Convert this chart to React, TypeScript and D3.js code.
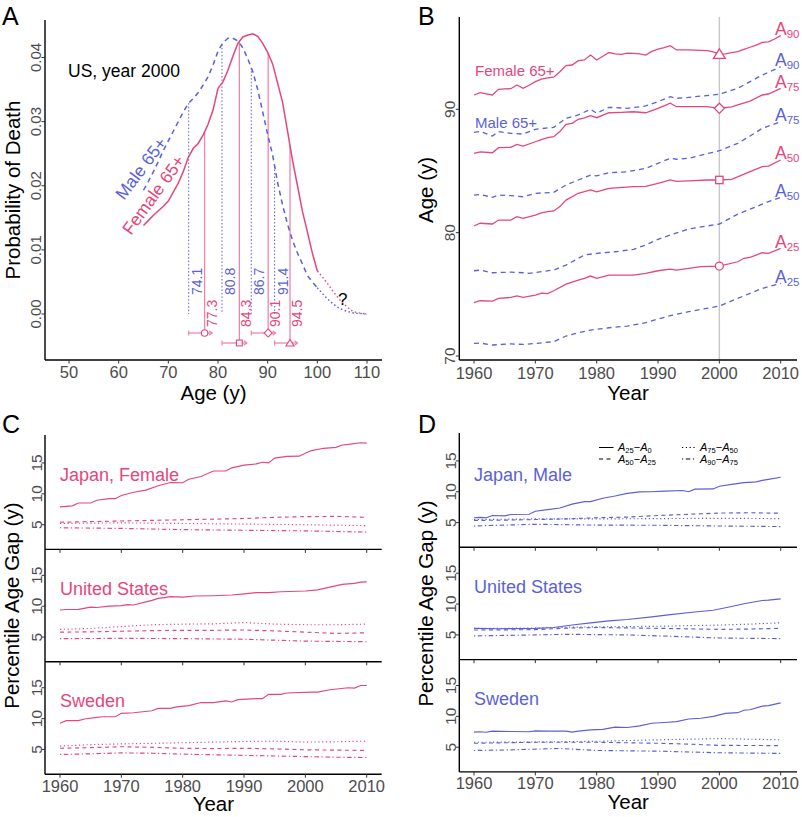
import React from 'react';
import * as d3 from 'd3';

type Pt = [number, number];

const PINK = '#E5467B';
const PINK_LIGHT = '#EE86AA';
const BLUE = '#5B5FDB';
const GREY = '#4D4D4D';
const FONT = '"Liberation Sans", Arial, Helvetica, sans-serif';

// ---------------- Panel A: probability of death by age (US, 2000) ----------------
const femaleCurve: Pt[] = [
  [65, 0.0138], [66, 0.0146], [67, 0.0154], [68, 0.0161], [69, 0.0168], [70, 0.0176], [71, 0.019],
  [72, 0.0204], [73, 0.0222], [74, 0.0244], [75, 0.0258], [76, 0.0266], [77, 0.0279], [78, 0.0296],
  [79, 0.0318], [80, 0.0352], [81, 0.0362], [82, 0.038], [83, 0.0402], [84, 0.0422], [85, 0.0432],
  [86, 0.0435], [87, 0.0437], [88, 0.0433], [89, 0.0422], [90, 0.0408], [91, 0.039], [92, 0.036],
  [93, 0.033], [94, 0.0285], [95, 0.024], [96, 0.02], [97, 0.016], [98, 0.0128], [99, 0.0095], [100, 0.0067],
];
const femaleTail: Pt[] = [
  [100, 0.0067], [101, 0.0058], [102, 0.0048], [103, 0.0037], [104, 0.0027], [105, 0.0018],
  [106, 0.0011], [107, 0.0005], [108, 0.0002], [109, 0.0001], [110, 0],
];
const maleCurve: Pt[] = [
  [65, 0.0193], [66, 0.0207], [67, 0.0222], [68, 0.0238], [69, 0.0255], [70, 0.027], [71, 0.0285],
  [72, 0.03], [73, 0.0315], [74, 0.0328], [75, 0.0336], [76, 0.0345], [77, 0.0357], [78, 0.037],
  [79, 0.0388], [80, 0.041], [81, 0.0423], [82, 0.043], [83, 0.043], [84, 0.0426], [85, 0.0415],
  [86, 0.0398], [87, 0.0378], [88, 0.035], [89, 0.0315], [90, 0.028], [91, 0.0248], [92, 0.0205],
  [93, 0.017], [94, 0.014], [95, 0.0115], [96, 0.0095], [97, 0.0078], [98, 0.006], [99, 0.005], [100, 0.0041],
];
const maleTail: Pt[] = [
  [100, 0.0041], [101, 0.0032], [102, 0.0024], [103, 0.0017], [104, 0.0011], [105, 0.0007],
  [106, 0.0004], [107, 0.0002], [108, 0.0001], [110, 0],
];
const femalePct = [77.3, 84.3, 90.1, 94.5];
const malePct = [74.1, 80.8, 86.7, 91.4];
const pctShapes = ['circle', 'square', 'diamond', 'triangle'];
const aXTicks = [50, 60, 70, 80, 90, 100, 110];
const aYTicks = [0, 0.01, 0.02, 0.03, 0.04];

// ---------------- Panel B: percentile ages by year (US) ----------------
const fA90: Pt[] = [
  [1960, 91.16], [1961, 91.35], [1962, 91.25], [1963, 91.16], [1964, 91.62], [1965, 91.65], [1966, 91.67],
  [1967, 91.97], [1968, 91.7], [1969, 91.95], [1970, 92.24], [1971, 92.45], [1972, 92.55], [1973, 92.6],
  [1974, 93.05], [1975, 93.54], [1976, 93.59], [1977, 93.94], [1978, 94.0], [1979, 94.4], [1980, 94.0],
  [1981, 94.3], [1982, 94.6], [1983, 94.5], [1984, 94.46], [1985, 94.55], [1986, 94.54], [1987, 94.5],
  [1988, 94.4], [1989, 94.7], [1990, 94.87], [1991, 95.0], [1992, 95.16], [1993, 94.81], [1995, 94.81],
  [1998, 94.75], [1999, 94.65], [2000, 94.48], [2001, 94.5], [2002, 94.6], [2003, 94.68], [2004, 94.85],
  [2005, 95.03], [2006, 95.2], [2007, 95.43], [2008, 95.46], [2009, 95.7], [2010, 95.97],
];
const mA90: Pt[] = [
  [1960, 88.13], [1961, 88.2], [1963, 87.83], [1964, 88.19], [1966, 88.05], [1968, 87.99], [1970, 88.38],
  [1973, 88.54], [1975, 89.27], [1977, 89.54], [1979, 90.0], [1980, 89.68], [1982, 90.16], [1985, 90.08],
  [1988, 90.27], [1990, 90.62], [1992, 91.02], [1993, 90.89], [1995, 90.97], [2000, 91.22], [2003, 91.7],
  [2005, 92.24], [2007, 92.78], [2010, 93.45],
];
const fA75: Pt[] = [
  [1960, 86.43], [1961, 86.55], [1963, 86.48], [1964, 86.89], [1966, 86.92], [1967, 87.16], [1968, 87.02],
  [1970, 87.37], [1971, 87.55], [1972, 87.7], [1973, 87.78], [1974, 88.19], [1975, 88.78], [1976, 88.86],
  [1977, 89.19], [1978, 89.3], [1979, 89.48], [1980, 89.32], [1982, 89.72], [1984, 89.75], [1986, 89.8],
  [1988, 89.72], [1990, 90.08], [1992, 90.49], [1993, 90.21], [1995, 90.21], [1998, 90.21], [2000, 90.08],
  [2002, 90.2], [2003, 90.35], [2005, 90.67], [2007, 91.16], [2008, 91.24], [2010, 91.7],
];
const mA75: Pt[] = [
  [1960, 83.05], [1961, 83.1], [1963, 82.86], [1964, 83.05], [1966, 83.0], [1968, 82.91], [1970, 83.19],
  [1973, 83.27], [1975, 83.86], [1977, 84.27], [1979, 84.67], [1980, 84.6], [1982, 84.86], [1985, 84.94],
  [1988, 85.21], [1990, 85.62], [1992, 86.03], [1993, 85.95], [1995, 86.03], [2000, 86.64], [2003, 87.24],
  [2005, 87.83], [2007, 88.46], [2010, 88.99],
];
const fA50: Pt[] = [
  [1960, 80.54], [1961, 80.76], [1963, 80.7], [1964, 81.02], [1966, 81.02], [1967, 81.29], [1968, 81.16],
  [1970, 81.43], [1971, 81.6], [1972, 81.7], [1973, 81.76], [1974, 82.11], [1975, 82.64], [1977, 83.19],
  [1979, 83.46], [1980, 83.3], [1982, 83.59], [1986, 83.73], [1988, 83.75], [1990, 84.0], [1992, 84.27],
  [1993, 84.15], [1995, 84.2], [1998, 84.27], [2000, 84.27], [2002, 84.32], [2005, 84.94], [2007, 85.35],
  [2008, 85.4], [2010, 85.89],
];
const mA50: Pt[] = [
  [1960, 76.91], [1961, 76.96], [1963, 76.75], [1966, 76.8], [1968, 76.75], [1969, 76.7], [1973, 76.97],
  [1975, 77.37], [1978, 78.19], [1980, 78.32], [1983, 78.45], [1986, 78.65], [1988, 79.0], [1990, 79.46],
  [1992, 79.81], [1995, 80.3], [2000, 80.7], [2003, 81.5], [2005, 81.9], [2008, 82.51], [2010, 82.86],
];
const fA25: Pt[] = [
  [1960, 74.32], [1961, 74.48], [1963, 74.45], [1964, 74.67], [1966, 74.75], [1967, 74.88], [1968, 74.75],
  [1970, 74.94], [1971, 75.1], [1972, 75.05], [1973, 75.29], [1975, 75.83], [1977, 76.16], [1978, 76.29],
  [1979, 76.48], [1980, 76.29], [1982, 76.56], [1986, 76.56], [1988, 76.7], [1990, 76.91], [1992, 77.05],
  [1993, 76.97], [1995, 77.1], [1997, 77.24], [2000, 77.29], [2003, 77.64], [2004, 77.92], [2005, 78.0],
  [2007, 78.37], [2008, 78.32], [2010, 78.73],
];
const mA25: Pt[] = [
  [1960, 71.02], [1961, 71.05], [1963, 70.89], [1966, 70.98], [1968, 70.94], [1970, 71.02], [1973, 71.16],
  [1975, 71.62], [1977, 71.89], [1979, 72.1], [1982, 72.29], [1985, 72.43], [1988, 72.7], [1990, 73.0],
  [1992, 73.27], [1995, 73.59], [2000, 74.05], [2003, 74.67], [2005, 75.08], [2007, 75.48], [2010, 75.89],
];
const bLabels = ['90', '75', '50', '25'];
const bShapes = ['triangle', 'diamond', 'square', 'circle'];
const yearTicks = [1960, 1970, 1980, 1990, 2000, 2010];
const bYTicks = [70, 80, 90];
const markYear = 2000;

// ---------------- Panels C/D: percentile age gaps ----------------
// order per facet: [A25-A0 (solid), A50-A25 (dashed), A75-A50 (dotted), A90-A75 (dotdash)]
const jpFemSolid: Pt[] = [
  [1960, 7.89], [1962, 8.05], [1963, 8.52], [1965, 8.52], [1966, 8.95], [1968, 9.21], [1969, 9.21],
  [1970, 9.74], [1972, 10.26], [1974, 10.6], [1976, 11.3], [1978, 11.84], [1980, 11.8], [1981, 12.37],
  [1983, 12.8], [1985, 13.69], [1987, 13.69], [1988, 14.21], [1990, 14.64], [1992, 14.84], [1993, 15.11],
  [1994, 15.0], [1995, 15.79], [1997, 16.06], [1999, 16.1], [2000, 16.58], [2001, 17.0], [2003, 17.37],
  [2005, 17.53], [2006, 17.9], [2007, 18.0], [2009, 18.27], [2010, 18.2],
];
const jpFemDashed: Pt[] = [[1960, 5.4], [1965, 5.5], [1970, 5.6], [1975, 5.7], [1980, 5.8], [1985, 5.9], [1990, 6.0], [1995, 6.2], [2000, 6.3], [2005, 6.35], [2010, 6.2]];
const jpFemDotted: Pt[] = [[1960, 5.2], [1970, 5.3], [1980, 5.2], [1990, 5.1], [2000, 5.0], [2010, 4.85]];
const jpFemDotdash: Pt[] = [[1960, 4.5], [1970, 4.4], [1980, 4.2], [1990, 4.1], [2000, 4.0], [2010, 3.8]];

const usFemSolid: Pt[] = [
  [1960, 9.38], [1961, 9.47], [1963, 9.5], [1965, 9.86], [1966, 9.8], [1968, 10.02], [1970, 10.1],
  [1971, 10.25], [1972, 10.2], [1974, 10.7], [1975, 10.95], [1976, 11.27], [1977, 11.4], [1978, 11.55],
  [1980, 11.48], [1982, 11.65], [1985, 11.7], [1988, 11.81], [1990, 12.0], [1992, 12.2], [1994, 12.2],
  [1996, 12.35], [2000, 12.46], [2002, 12.65], [2004, 13.1], [2006, 13.54], [2008, 13.7], [2009, 13.9], [2010, 13.95],
];
const usFemDashed: Pt[] = [[1960, 5.8], [1965, 5.85], [1970, 5.95], [1975, 6.05], [1980, 6.1], [1985, 6.1], [1990, 6.15], [1995, 6.0], [2000, 5.8], [2005, 5.6], [2010, 5.7]];
const usFemDotted: Pt[] = [[1960, 6.25], [1965, 6.4], [1970, 6.7], [1975, 7.0], [1980, 7.1], [1985, 7.15], [1990, 7.35], [1995, 7.1], [2000, 7.0], [2005, 7.0], [2010, 7.1]];
const usFemDotdash: Pt[] = [[1960, 4.75], [1970, 4.8], [1980, 4.75], [1990, 4.65], [1995, 4.5], [2000, 4.35], [2005, 4.3], [2010, 4.25]];

const seFemSolid: Pt[] = [
  [1960, 9.26], [1961, 9.67], [1963, 9.67], [1964, 9.94], [1966, 10.2], [1967, 10.31], [1969, 10.31],
  [1970, 10.85], [1972, 10.95], [1975, 11.27], [1976, 11.65], [1978, 11.65], [1979, 11.91], [1981, 12.1],
  [1983, 12.6], [1985, 12.6], [1987, 12.86], [1988, 12.7], [1989, 13.08], [1992, 13.24], [1993, 13.24],
  [1994, 13.93], [1996, 13.93], [1997, 14.14], [2001, 14.3], [2002, 14.3], [2004, 14.68], [2007, 15.0],
  [2008, 14.95], [2009, 15.37], [2010, 15.37],
];
const seFemDashed: Pt[] = [[1960, 5.2], [1965, 5.3], [1970, 5.45], [1975, 5.35], [1980, 5.2], [1985, 5.15], [1990, 5.2], [1995, 5.1], [2000, 4.95], [2005, 4.9], [2010, 4.85]];
const seFemDotted: Pt[] = [[1960, 5.55], [1965, 5.8], [1970, 5.9], [1975, 6.0], [1980, 6.1], [1985, 6.2], [1990, 6.3], [1995, 6.35], [2000, 6.2], [2005, 6.25], [2010, 6.35]];
const seFemDotdash: Pt[] = [[1960, 4.2], [1965, 4.3], [1970, 4.45], [1975, 4.4], [1980, 4.25], [1985, 4.15], [1990, 4.05], [1995, 3.95], [2000, 3.85], [2005, 3.75], [2010, 3.7]];

const jpMalSolid: Pt[] = [
  [1960, 5.79], [1961, 5.85], [1962, 5.79], [1963, 6.15], [1965, 6.1], [1966, 6.31], [1969, 6.35],
  [1970, 6.84], [1972, 7.1], [1974, 7.37], [1976, 8.0], [1978, 8.41], [1979, 8.4], [1981, 8.95],
  [1983, 9.31], [1985, 9.74], [1987, 9.99], [1989, 10.0], [1991, 10.1], [1994, 10.2], [1995, 10.0],
  [1996, 10.42], [1999, 10.46], [2000, 10.89], [2002, 11.2], [2004, 11.47], [2006, 11.6], [2007, 11.84],
  [2008, 12.0], [2010, 12.36],
];
const jpMalDashed: Pt[] = [[1960, 5.36], [1965, 5.4], [1970, 5.5], [1975, 5.6], [1980, 5.79], [1985, 5.9], [1990, 6.15], [1995, 6.35], [2000, 6.55], [2005, 6.6], [2010, 6.52]];
const jpMalDotted: Pt[] = [[1960, 5.5], [1970, 5.6], [1980, 5.6], [1990, 5.65], [2000, 5.7], [2010, 5.65]];
const jpMalDotdash: Pt[] = [[1960, 4.46], [1965, 4.6], [1970, 4.73], [1980, 4.6], [1990, 4.57], [2000, 4.45], [2010, 4.36]];

const usMalSolid: Pt[] = [
  [1960, 6.07], [1964, 6.0], [1970, 6.07], [1973, 6.2], [1976, 6.6], [1979, 6.96], [1982, 7.28],
  [1985, 7.5], [1989, 7.92], [1992, 8.3], [1996, 8.72], [1999, 8.99], [2002, 9.6], [2004, 10.05],
  [2007, 10.58], [2008, 10.65], [2010, 10.85],
];
const usMalDashed: Pt[] = [[1960, 5.8], [1970, 5.85], [1975, 6.1], [1980, 6.2], [1990, 6.07], [2000, 5.9], [2005, 5.95], [2010, 6.07]];
const usMalDotted: Pt[] = [[1960, 6.07], [1970, 6.1], [1975, 6.25], [1980, 6.3], [1990, 6.4], [2000, 6.6], [2005, 6.75], [2010, 6.96]];
const usMalDotdash: Pt[] = [[1960, 4.84], [1970, 5.0], [1975, 5.1], [1985, 5.0], [1990, 4.85], [2000, 4.5], [2005, 4.45], [2010, 4.4]];

const seMalSolid: Pt[] = [
  [1960, 7.45], [1961, 7.5], [1962, 7.42], [1963, 7.6], [1966, 7.55], [1969, 7.5], [1970, 7.65],
  [1972, 7.6], [1975, 7.6], [1976, 7.45], [1977, 7.6], [1979, 7.82], [1981, 7.9], [1983, 8.25],
  [1985, 8.2], [1987, 8.45], [1989, 8.89], [1991, 9.0], [1993, 9.15], [1995, 9.58], [1997, 9.7],
  [1999, 10.0], [2001, 10.48], [2003, 10.6], [2004, 11.0], [2005, 11.07], [2007, 11.65], [2008, 11.75], [2010, 12.18],
];
const seMalDashed: Pt[] = [[1960, 5.64], [1970, 5.8], [1980, 5.8], [1990, 5.64], [1995, 5.5], [2000, 5.3], [2010, 5.26]];
const seMalDotted: Pt[] = [[1960, 5.8], [1970, 5.85], [1980, 5.96], [1990, 6.2], [2000, 6.4], [2005, 6.3], [2010, 6.2]];
const seMalDotdash: Pt[] = [[1960, 4.47], [1965, 4.55], [1974, 4.8], [1980, 4.47], [1990, 4.36], [2000, 4.1], [2010, 4.0]];

const femaleFacetNames = ['Japan, Female', 'United States', 'Sweden'];
const maleFacetNames = ['Japan, Male', 'United States', 'Sweden'];
const gapTicks = [5, 10, 15];
const gapDomain = [1, 19.2];
const legendItems = [
  { a: '25', b: '0' },
  { a: '50', b: '25' },
  { a: '75', b: '50' },
  { a: '90', b: '75' },
];

const DASHES = ['none', '4,3.5', '1.2,2.6', '1.2,2.6,4.5,2.6'];

function interp(data: Pt[], x: number): number {
  for (let i = 0; i < data.length - 1; i++) {
    const [x0, y0] = data[i];
    const [x1, y1] = data[i + 1];
    if (x >= x0 && x <= x1) return y0 + ((x - x0) / (x1 - x0)) * (y1 - y0);
  }
  return data[data.length - 1][1];
}

function Marker({ shape, x, y, s, color, sw = 1.3 }: { shape: string; x: number; y: number; s: number; color: string; sw?: number }) {
  const common = { fill: 'white', stroke: color, strokeWidth: sw };
  if (shape === 'circle') return <circle cx={x} cy={y} r={s / 2} {...common} />;
  if (shape === 'square') return <rect x={x - s * 0.45} y={y - s * 0.45} width={s * 0.9} height={s * 0.9} {...common} />;
  if (shape === 'diamond') {
    const h = s * 0.62;
    return <path d={`M${x},${y - h}L${x + h},${y}L${x},${y + h}L${x - h},${y}Z`} {...common} />;
  }
  const w = s * 0.62;
  return <path d={`M${x},${y - s * 0.55}L${x + w},${y + s * 0.45}L${x - w},${y + s * 0.45}Z`} {...common} />;
}

function ALabel({ x, y, sub, color, fs, subFs }: { x: number; y: number; sub: string; color: string; fs: number; subFs: number }) {
  return (
    <text x={x} y={y} fill={color} fontSize={fs}>
      A<tspan fontSize={subFs} dy={3}>{sub}</tspan>
    </text>
  );
}

export default function App() {
  // ----- Panel A scales -----
  const ax = d3.scaleLinear().domain([50, 110]).range([69, 367]);
  const ay = d3.scaleLinear().domain([0, 0.04]).range([314, 57.5]);
  const aLine = d3.line<Pt>().x((d) => ax(d[0])).y((d) => ay(d[1]));

  // ----- Panel B scales -----
  const bx = d3.scaleLinear().domain([1960, 2010]).range([474, 780.7]);
  const by = d3.scaleLinear().domain([70, 90]).range([356, 109.3]);
  const bLine = d3.line<Pt>().x((d) => bx(d[0])).y((d) => by(d[1]));
  const femB = [fA90, fA75, fA50, fA25];
  const malB = [mA90, mA75, mA50, mA25];

  // ----- Panels C / D -----
  const cx = d3.scaleLinear().domain([1960, 2010]).range([60, 366.7]);
  const dx = d3.scaleLinear().domain([1960, 2010]).range([474, 780.7]);
  const femFacets = [
    [jpFemSolid, jpFemDashed, jpFemDotted, jpFemDotdash],
    [usFemSolid, usFemDashed, usFemDotted, usFemDotdash],
    [seFemSolid, seFemDashed, seFemDotted, seFemDotdash],
  ];
  const malFacets = [
    [jpMalSolid, jpMalDashed, jpMalDotted, jpMalDotdash],
    [usMalSolid, usMalDashed, usMalDotted, usMalDotdash],
    [seMalSolid, seMalDashed, seMalDotted, seMalDotdash],
  ];

  const renderGapPanel = (
    key: string,
    xs: d3.ScaleLinear<number, number>,
    axisLeft: number,
    axisRight: number,
    top0: number,
    h: number,
    facets: Pt[][][],
    names: string[],
    color: string,
    tickLabelX: number,
    labelBaselines: number[],
  ) => {
    const bottom = top0 + 3 * h;
    return (
      <g key={key}>
        <line x1={axisLeft} x2={axisLeft} y1={top0 - 2} y2={bottom} stroke="#000" strokeWidth={1.4} />
        {facets.map((series, fi) => {
          const t = top0 + fi * h;
          const ys = d3.scaleLinear().domain(gapDomain).range([t + h, t]);
          const line = d3.line<Pt>().x((d) => xs(d[0])).y((d) => ys(d[1]));
          return (
            <g key={fi}>
              <line x1={axisLeft} x2={axisRight} y1={t + h} y2={t + h} stroke="#000" strokeWidth={1.4} />
              {yearTicks.map((yr) => (
                <line key={yr} x1={xs(yr)} x2={xs(yr)} y1={t + h} y2={t + h + 3.5} stroke="#333" strokeWidth={1} />
              ))}
              {gapTicks.map((v) => (
                <g key={v}>
                  <line x1={axisLeft - 3.5} x2={axisLeft} y1={ys(v)} y2={ys(v)} stroke="#333" strokeWidth={1} />
                  <text transform={`translate(${tickLabelX},${ys(v)}) rotate(-90)`} textAnchor="middle" fontSize={15.5} fill={GREY}>
                    {v}
                  </text>
                </g>
              ))}
              {series.map((s, si) => (
                <path key={si} d={line(s) || ''} fill="none" stroke={color} strokeWidth={1.15} strokeDasharray={DASHES[si]} />
              ))}
              <text x={xs(1960)} y={labelBaselines[fi]} fill={color} fontSize={18}>
                {names[fi]}
              </text>
            </g>
          );
        })}
        {yearTicks.map((yr) => (
          <text key={yr} x={xs(yr)} y={bottom + 17.5} textAnchor="middle" fontSize={16.5} fill={GREY}>
            {yr}
          </text>
        ))}
        <text x={(axisLeft + axisRight) / 2} y={bottom + 37} textAnchor="middle" fontSize={20.5} fill="#000">
          Year
        </text>
        <text transform={`translate(${axisLeft - 26},${(top0 + bottom) / 2}) rotate(-90)`} textAnchor="middle" fontSize={20.5} fill="#000">
          Percentile Age Gap (y)
        </text>
      </g>
    );
  };

  const y0 = ay(0);
  const markerOffsets = [19, 29, 19, 29];

  return (
    <div style={{ position: 'absolute', left: 0, top: 0, width: 802, height: 817, background: '#fff' }}>
      <svg width={802} height={817} style={{ display: 'block', fontFamily: FONT }}>
        <rect width={802} height={817} fill="#fff" />

        {/* ================= Panel A ================= */}
        <text x={2} y={25} fontSize={25} fill="#000">A</text>
        <line x1={45} x2={45} y1={20} y2={360} stroke="#000" strokeWidth={1.4} />
        <line x1={45} x2={382} y1={360} y2={360} stroke="#000" strokeWidth={1.4} />
        {aXTicks.map((t) => (
          <g key={t}>
            <line x1={ax(t)} x2={ax(t)} y1={360} y2={363.5} stroke="#333" />
            <text x={ax(t)} y={378} textAnchor="middle" fontSize={16.5} fill={GREY}>{t}</text>
          </g>
        ))}
        {aYTicks.map((t) => (
          <g key={t}>
            <line x1={41.5} x2={45} y1={ay(t)} y2={ay(t)} stroke="#333" />
            <text transform={`translate(${41},${ay(t)}) rotate(-90)`} textAnchor="middle" fontSize={15} fill={GREY}>
              {d3.format('.2f')(t)}
            </text>
          </g>
        ))}
        <text x={213.5} y={400} textAnchor="middle" fontSize={20.5}>Age (y)</text>
        <text transform="translate(20,190) rotate(-90)" textAnchor="middle" fontSize={20.5}>Probability of Death</text>
        <text x={68} y={77} fontSize={17.5} fill="#000">US, year 2000</text>

        {/* male percentile lines */}
        {malePct.map((p) => (
          <g key={p}>
            <line x1={ax(p)} x2={ax(p)} y1={ay(interp(maleCurve, p))} y2={y0} stroke={BLUE} strokeWidth={1} strokeDasharray="1.5,2" />
            <text transform={`translate(${ax(p) + 13},${295}) rotate(-90)`} fontSize={14} fill={BLUE}>{p.toFixed(1)}</text>
          </g>
        ))}
        {/* female percentile lines + markers */}
        {femalePct.map((p, i) => {
          const my = y0 + markerOffsets[i];
          const xm = ax(malePct[i]);
          const xf = ax(p);
          const xe = xf + 7.5;
          return (
            <g key={p}>
              <line x1={xf} x2={xf} y1={ay(interp(femaleCurve, p))} y2={my} stroke={PINK_LIGHT} strokeWidth={1.3} />
              <line x1={xm} x2={xe} y1={my} y2={my} stroke={PINK_LIGHT} strokeWidth={1.3} />
              <line x1={xm} x2={xm} y1={my - 2.5} y2={my + 2.5} stroke={PINK_LIGHT} strokeWidth={1.2} />
              <path d={`M${xe - 3},${my - 2.2}L${xe},${my}L${xe - 3},${my + 2.2}`} fill="none" stroke={PINK_LIGHT} strokeWidth={1.2} />
              <Marker shape={pctShapes[i]} x={xf} y={my} s={6.5} color={PINK} sw={1.1} />
              <text transform={`translate(${xf + 12},${327}) rotate(-90)`} fontSize={14} fill={PINK}>{p.toFixed(1)}</text>
            </g>
          );
        })}
        {/* curves */}
        <path d={aLine(maleCurve) || ''} fill="none" stroke={BLUE} strokeWidth={1.5} strokeDasharray="5,4" />
        <path d={aLine(maleTail) || ''} fill="none" stroke={BLUE} strokeWidth={1.4} strokeDasharray="1.5,2.5" />
        <path d={aLine(femaleCurve) || ''} fill="none" stroke={PINK} strokeWidth={1.5} />
        <path d={aLine(femaleTail) || ''} fill="none" stroke={PINK} strokeWidth={1.4} strokeDasharray="1.5,2.5" />
        <text x={338} y={305} fontSize={17} fill="#000">?</text>
        <text transform="translate(124,201) rotate(-53)" fontSize={17.5} fill={BLUE}>Male 65+</text>
        <text transform="translate(131,236) rotate(-54)" fontSize={17.5} fill={PINK}>Female 65+</text>

        {/* ================= Panel B ================= */}
        <text x={418} y={25} fontSize={25} fill="#000">B</text>
        <line x1={bx(markYear)} x2={bx(markYear)} y1={17} y2={360} stroke="#C8C8C8" strokeWidth={1.4} />
        <line x1={459.3} x2={459.3} y1={17} y2={360} stroke="#000" strokeWidth={1.4} />
        <line x1={459.3} x2={797} y1={360} y2={360} stroke="#000" strokeWidth={1.4} />
        {yearTicks.map((t) => (
          <g key={t}>
            <line x1={bx(t)} x2={bx(t)} y1={360} y2={363.5} stroke="#333" />
            <text x={bx(t)} y={379} textAnchor="middle" fontSize={16.5} fill={GREY}>{t}</text>
          </g>
        ))}
        {bYTicks.map((t) => (
          <g key={t}>
            <line x1={455.8} x2={459.3} y1={by(t)} y2={by(t)} stroke="#333" />
            <text transform={`translate(${455},${by(t)}) rotate(-90)`} textAnchor="middle" fontSize={15.5} fill={GREY}>{t}</text>
          </g>
        ))}
        <text x={628} y={400} textAnchor="middle" fontSize={20.5}>Year</text>
        <text transform="translate(433,190) rotate(-90)" textAnchor="middle" fontSize={20.5}>Age (y)</text>
        {malB.map((s, i) => (
          <path key={'m' + i} d={bLine(s) || ''} fill="none" stroke={BLUE} strokeWidth={1.3} strokeDasharray="5,4" />
        ))}
        {femB.map((s, i) => (
          <path key={'f' + i} d={bLine(s) || ''} fill="none" stroke={PINK} strokeWidth={1.3} />
        ))}
        {femB.map((s, i) => (
          <Marker key={'k' + i} shape={bShapes[i]} x={bx(markYear)} y={by(interp(s, markYear))} s={i === 0 ? 9.5 : i === 3 ? 8 : 8.2} color={PINK} />
        ))}
        {femB.map((s, i) => (
          <ALabel key={'lf' + i} x={775} y={by(s[s.length - 1][1]) - 0.5} sub={bLabels[i]} color={PINK} fs={17.5} subFs={11.5} />
        ))}
        {malB.map((s, i) => (
          <ALabel key={'lm' + i} x={775} y={by(s[s.length - 1][1]) - 0.5} sub={bLabels[i]} color={BLUE} fs={17.5} subFs={11.5} />
        ))}
        <text x={475} y={76} fontSize={15} fill={PINK}>Female 65+</text>
        <text x={475} y={127.5} fontSize={15} fill={BLUE}>Male 65+</text>

        {/* ================= Panel C ================= */}
        <text x={2} y={433} fontSize={25} fill="#000">C</text>
        {renderGapPanel('C', cx, 45, 381.7, 437, 112.4, femFacets, femaleFacetNames, PINK, 41.5, [481, 594.5, 707])}

        {/* ================= Panel D ================= */}
        <text x={418} y={433} fontSize={25} fill="#000">D</text>
        {renderGapPanel('D', dx, 459.3, 797, 435, 112.3, malFacets, maleFacetNames, BLUE, 456, [481, 593, 704.5])}

        {/* legend in D */}
        {legendItems.map((it, i) => {
          const col = i < 2 ? 0 : 1;
          const row = i % 2;
          const lx = col === 0 ? 599 : 682;
          const tx = col === 0 ? 618 : 700;
          const ly = 447.5 + row * 11.5;
          return (
            <g key={i}>
              <line x1={lx} x2={lx + 14.5} y1={ly} y2={ly} stroke="#000" strokeWidth={1} strokeDasharray={DASHES[i]} />
              <text x={tx} y={ly + 3.5} fontSize={11} fill="#000">
                <tspan fontStyle="italic">A</tspan>
                <tspan fontSize={7.5} dy={2}>{it.a}</tspan>
                <tspan dy={-2}>−</tspan>
                <tspan fontStyle="italic">A</tspan>
                <tspan fontSize={7.5} dy={2}>{it.b}</tspan>
              </text>
            </g>
          );
        })}
      </svg>
    </div>
  );
}
